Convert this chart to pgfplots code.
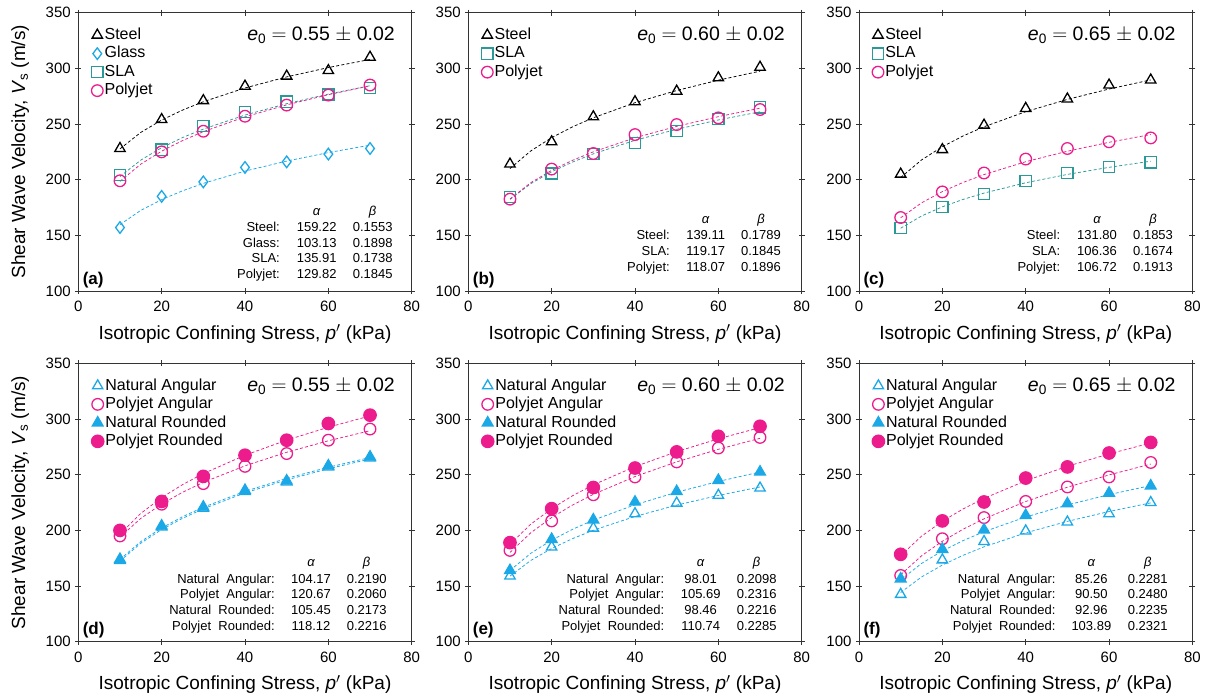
\documentclass[border=0pt]{standalone}
\usepackage{pgfplots}
\pgfplotsset{compat=1.18}
\usepackage{fontspec}
\setmainfont{Liberation Sans}
\definecolor{cyanc}{HTML}{1BA8E6}
\definecolor{tealc}{HTML}{2A9A98}
\definecolor{magc}{HTML}{EC1C8C}
\definecolor{axc}{HTML}{333333}
\tikzset{tab/.style={font=\fontsize{13}{15}\selectfont, inner sep=0pt},
  plab/.style={font=\bfseries\fontsize{17}{20}\selectfont, anchor=west, inner sep=0pt}}
\pgfplotsset{
 panel/.style={scale only axis, width=333.4pt, height=278.3pt,
  xmin=0, xmax=80, ymin=100, ymax=350,
  xtick={0,20,40,60,80}, ytick={100,150,200,250,300,350},
  tick align=center, major tick length=6pt,
  axis line style={line width=0.9pt, axc},
  tick style={line width=0.9pt, axc},
  ticklabel style={font=\fontsize{15}{18}\selectfont},
  xticklabel style={yshift=-3.5pt},
  yticklabel style={xshift=-1pt},
  /pgf/number format/assume math mode=true,
  xlabel={Isotropic Confining Stress, \textit{p}$^{\prime}$ (kPa)},
  xlabel style={at={(axis description cs:0.5,0)}, anchor=center, yshift=-43pt, font=\fontsize{19}{23}\selectfont},
  ylabel style={at={(axis description cs:-0.174,0.5)}, anchor=center, font=\fontsize{19}{23}\selectfont},
  legend style={draw=none, fill=none, at={(rel axis cs:0,1)}, anchor=north west, xshift=13pt, yshift=-13pt,
    font=\fontsize{16}{19}\selectfont, inner sep=0pt,
    nodes={inner sep=1.5pt, text height=12pt, text depth=3.5pt}, row sep=0pt},
  legend cell align=left, clip=false},
 dat/.style={only marks, mark options={solid, line width=1.3pt},
   legend image code/.code={\draw[##1] plot coordinates {(5pt,0pt)};}},
 fitl/.style={forget plot, no marks, dash pattern=on 3pt off 2.2pt, line width=0.75pt},
}
\newcommand{\trow}[4]{%
 \node[tab,anchor=base east] at (rel axis cs:\lx,#1) {#2};
 \node[tab,anchor=base] at (rel axis cs:\ax,#1) {#3};
 \node[tab,anchor=base] at (rel axis cs:\bx,#1) {#4};}
\newcommand{\hdr}[1]{%
 \node[tab,anchor=base] at (rel axis cs:\ax,#1) {\itshape α};
 \node[tab,anchor=base] at (rel axis cs:\bx,#1) {\itshape β};}
\newcommand{\eo}[1]{\fontsize{19.5}{23}\selectfont\textit{e}\textsubscript{0} $=$ #1 $\pm$ 0.02}
\begin{document}
\begin{tikzpicture}
\useasboundingbox (0pt,0pt) rectangle (1207pt,700pt);

% ---------------- (a)
\def\lx{0.605}\def\ax{0.715}\def\bx{0.883}
\begin{axis}[panel, at={(78.3pt,409pt)}, anchor=south west,
  ylabel={Shear Wave Velocity, \textit{V}\textsubscript{s} (m/s)}]
\addplot[fitl, black] coordinates {(10,227.67)(15,242.46)(20,253.54)(25,262.48)(30,270.02)(40,282.36)(50,292.31)(60,300.71)(70,308.00)};
\addplot[fitl, cyanc] coordinates {(10,159.66)(15,172.43)(20,182.10)(25,189.98)(30,196.67)(40,207.71)(50,216.70)(60,224.33)(70,230.99)};
\addplot[fitl, tealc] coordinates {(10,202.79)(15,217.60)(20,228.76)(25,237.80)(30,245.46)(40,258.04)(50,268.25)(60,276.88)(70,284.40)};
\addplot[fitl, magc] coordinates {(10,198.54)(15,213.96)(20,225.62)(25,235.10)(30,243.15)(40,256.40)(50,267.18)(60,276.32)(70,284.29)};
\addplot[dat, black, mark=triangle, mark size=6pt] coordinates {(10,228)(20,254)(30,271)(40,284)(50,293)(60,298)(70,310)};
\addlegendentry{Steel}
\addplot[dat, cyanc, mark=diamond, mark size=5.8pt] coordinates {(10,157)(20,185)(30,198)(40,211)(50,216)(60,223)(70,228)};
\addlegendentry{Glass}
\addplot[dat, tealc, mark=square, mark size=5.6pt] coordinates {(10,204)(20,227)(30,248)(40,261)(50,270)(60,276.5)(70,282.5)};
\addlegendentry{SLA}
\addplot[dat, magc, mark=o, mark size=5.8pt] coordinates {(10,199)(20,225)(30,243.5)(40,257)(50,267)(60,276)(70,285)};
\addlegendentry{Polyjet}
\node[anchor=east] at (rel axis cs:0.96,0.918) {\eo{0.55}};
\hdr{0.270}
\trow{0.213}{Steel:}{159.22}{0.1553}
\trow{0.156}{Glass:}{103.13}{0.1898}
\trow{0.102}{SLA:}{135.91}{0.1738}
\trow{0.044}{Polyjet:}{129.82}{0.1845}
\node[plab] at (rel axis cs:0.013,0.038) {(a)};
\end{axis}

% ---------------- (b)
\def\lx{0.605}\def\ax{0.712}\def\bx{0.878}
\begin{axis}[panel, at={(468.3pt,409pt)}, anchor=south west]
\addplot[fitl, black] coordinates {(10,210.02)(15,225.82)(20,237.75)(25,247.43)(30,255.63)(40,269.13)(50,280.09)(60,289.38)(70,297.47)};
\addplot[fitl, tealc] coordinates {(10,182.25)(15,196.41)(20,207.11)(25,215.82)(30,223.20)(40,235.37)(50,245.26)(60,253.65)(70,260.97)};
\addplot[fitl, magc] coordinates {(10,182.70)(15,197.30)(20,208.36)(25,217.36)(30,225.01)(40,237.62)(50,247.89)(60,256.61)(70,264.22)};
\addplot[dat, black, mark=triangle, mark size=6pt] coordinates {(10,214)(20,234)(30,256.5)(40,270)(50,279.5)(60,291.5)(70,301)};
\addlegendentry{Steel}
\addplot[dat, tealc, mark=square, mark size=5.6pt] coordinates {(10,184.5)(20,205.5)(30,223)(40,233)(50,243.5)(60,254.5)(70,265)};
\addlegendentry{SLA}
\addplot[dat, magc, mark=o, mark size=5.8pt] coordinates {(10,182.5)(20,209.5)(30,223.5)(40,240.5)(50,249.5)(60,255.5)(70,263)};
\addlegendentry{Polyjet}
\node[anchor=east] at (rel axis cs:0.96,0.918) {\eo{0.60}};
\hdr{0.243}
\trow{0.184}{Steel:}{139.11}{0.1789}
\trow{0.128}{SLA:}{119.17}{0.1845}
\trow{0.070}{Polyjet:}{118.07}{0.1896}
\node[plab] at (rel axis cs:0.013,0.038) {(b)};
\end{axis}

% ---------------- (c)
\def\lx{0.604}\def\ax{0.714}\def\bx{0.882}
\begin{axis}[panel, at={(859pt,409pt)}, anchor=south west]
\addplot[fitl, black] coordinates {(10,201.94)(15,217.69)(20,229.61)(25,239.31)(30,247.53)(40,261.08)(50,272.10)(60,281.45)(70,289.61)};
\addplot[fitl, tealc] coordinates {(10,156.38)(15,167.36)(20,175.62)(25,182.30)(30,187.95)(40,197.23)(50,204.73)(60,211.08)(70,216.60)};
\addplot[fitl, magc] coordinates {(10,165.79)(15,179.16)(20,189.29)(25,197.55)(30,204.56)(40,216.13)(50,225.56)(60,233.56)(70,240.56)};
\addplot[dat, black, mark=triangle, mark size=6pt] coordinates {(10,205)(20,227)(30,249)(40,264)(50,272.5)(60,285)(70,289.5)};
\addlegendentry{Steel}
\addplot[dat, tealc, mark=square, mark size=5.6pt] coordinates {(10,156.5)(20,175.5)(30,187)(40,199)(50,206)(60,211.5)(70,215.5)};
\addlegendentry{SLA}
\addplot[dat, magc, mark=o, mark size=5.8pt] coordinates {(10,166)(20,189)(30,206)(40,218.5)(50,228)(60,234)(70,237.5)};
\addlegendentry{Polyjet}
\node[anchor=east] at (rel axis cs:0.96,0.918) {\eo{0.65}};
\hdr{0.243}
\trow{0.184}{Steel:}{131.80}{0.1853}
\trow{0.128}{SLA:}{106.36}{0.1674}
\trow{0.070}{Polyjet:}{106.72}{0.1913}
\node[plab] at (rel axis cs:0.013,0.038) {(c)};
\end{axis}

% ---------------- (d)
\def\lx{0.59}\def\ax{0.698}\def\bx{0.865}
\begin{axis}[panel, at={(78.3pt,58.3pt)}, anchor=south west,
  ylabel={Shear Wave Velocity, \textit{V}\textsubscript{s} (m/s)}]
\addplot[fitl, cyanc] coordinates {(10,172.48)(15,188.50)(20,200.76)(25,210.81)(30,219.40)(40,233.67)(50,245.37)(60,255.36)(70,264.13)};
\addplot[fitl, magc] coordinates {(10,193.91)(15,210.80)(20,223.67)(25,234.19)(30,243.16)(40,258.00)(50,270.14)(60,280.48)(70,289.53)};
\addplot[fitl, cyanc] coordinates {(10,173.92)(15,189.94)(20,202.19)(25,212.24)(30,220.82)(40,235.06)(50,246.74)(60,256.71)(70,265.46)};
\addplot[fitl, magc] coordinates {(10,196.75)(15,215.25)(20,229.42)(25,241.05)(30,250.99)(40,267.51)(50,281.07)(60,292.66)(70,302.83)};
\addplot[dat, cyanc, mark=triangle, mark size=6pt] coordinates {(10,173)(20,203)(30,220)(40,235)(50,243.5)(60,257)(70,265)};
\addlegendentry{Natural Angular}
\addplot[dat, magc, mark=o, mark size=5.8pt] coordinates {(10,195)(20,223.5)(30,242)(40,257.5)(50,269)(60,281)(70,291)};
\addlegendentry{Polyjet Angular}
\addplot[dat, cyanc, mark=triangle*, mark size=6.2pt] coordinates {(10,174)(20,204)(30,221)(40,236)(50,244.5)(60,258)(70,266)};
\addlegendentry{Natural Rounded}
\addplot[dat, magc, mark=*, mark size=6.2pt] coordinates {(10,200)(20,226)(30,248.5)(40,267.5)(50,281)(60,296)(70,303.5)};
\addlegendentry{Polyjet Rounded}
\node[anchor=east] at (rel axis cs:0.96,0.918) {\eo{0.55}};
\hdr{0.271}
\trow{0.210}{Natural~~Angular:}{104.17}{0.2190}
\trow{0.154}{Polyjet~~Angular:}{120.67}{0.2060}
\trow{0.098}{Natural~~Rounded:}{105.45}{0.2173}
\trow{0.041}{Polyjet~~Rounded:}{118.12}{0.2216}
\node[plab] at (rel axis cs:0.013,0.040) {(d)};
\end{axis}

% ---------------- (e)
\def\lx{0.588}\def\ax{0.697}\def\bx{0.865}
\begin{axis}[panel, at={(468.3pt,58.3pt)}, anchor=south west]
\addplot[fitl, cyanc] coordinates {(10,158.88)(15,172.99)(20,183.75)(25,192.56)(30,200.06)(40,212.51)(50,222.70)(60,231.38)(70,238.99)};
\addplot[fitl, magc] coordinates {(10,180.15)(15,197.89)(20,211.52)(25,222.74)(30,232.35)(40,248.36)(50,261.53)(60,272.81)(70,282.72)};
\addplot[fitl, cyanc] coordinates {(10,164.00)(15,179.42)(20,191.23)(25,200.93)(30,209.21)(40,222.99)(50,234.29)(60,243.95)(70,252.43)};
\addplot[fitl, magc] coordinates {(10,187.42)(15,205.61)(20,219.58)(25,231.07)(30,240.89)(40,257.26)(50,270.72)(60,282.24)(70,292.35)};
\addplot[dat, cyanc, mark=triangle, mark size=6pt] coordinates {(10,159)(20,185)(30,202)(40,215)(50,224.5)(60,231.5)(70,238)};
\addlegendentry{Natural Angular}
\addplot[dat, magc, mark=o, mark size=5.8pt] coordinates {(10,182)(20,208.5)(30,232)(40,248)(50,261.5)(60,274)(70,283.5)};
\addlegendentry{Polyjet Angular}
\addplot[dat, cyanc, mark=triangle*, mark size=6.2pt] coordinates {(10,164)(20,192)(30,209.5)(40,225.5)(50,235)(60,245)(70,252.5)};
\addlegendentry{Natural Rounded}
\addplot[dat, magc, mark=*, mark size=6.2pt] coordinates {(10,189)(20,219.5)(30,238.5)(40,256)(50,270.5)(60,284.5)(70,293.5)};
\addlegendentry{Polyjet Rounded}
\node[anchor=east] at (rel axis cs:0.96,0.918) {\eo{0.60}};
\hdr{0.271}
\trow{0.210}{Natural~~Angular:}{98.01}{0.2098}
\trow{0.154}{Polyjet~~Angular:}{105.69}{0.2316}
\trow{0.098}{Natural~~Rounded:}{98.46}{0.2216}
\trow{0.041}{Polyjet~~Rounded:}{110.74}{0.2285}
\node[plab] at (rel axis cs:0.013,0.040) {(e)};
\end{axis}

% ---------------- (f)
\def\lx{0.590}\def\ax{0.697}\def\bx{0.866}
\begin{axis}[panel, at={(859pt,58.3pt)}, anchor=south west]
\addplot[fitl, cyanc] coordinates {(10,144.16)(15,158.13)(20,168.85)(25,177.67)(30,185.22)(40,197.77)(50,208.10)(60,216.95)(70,224.71)};
\addplot[fitl, magc] coordinates {(10,160.19)(15,177.14)(20,190.24)(25,201.07)(30,210.37)(40,225.92)(50,238.78)(60,249.82)(70,259.56)};
\addplot[fitl, cyanc] coordinates {(10,155.52)(15,170.28)(20,181.58)(25,190.87)(30,198.81)(40,212.01)(50,222.85)(60,232.12)(70,240.26)};
\addplot[fitl, magc] coordinates {(10,177.29)(15,194.78)(20,208.23)(25,219.30)(30,228.78)(40,244.58)(50,257.58)(60,268.71)(70,278.50)};
\addplot[dat, cyanc, mark=triangle, mark size=6pt] coordinates {(10,142.5)(20,173.5)(30,190)(40,199.5)(50,207.5)(60,215)(70,225)};
\addlegendentry{Natural Angular}
\addplot[dat, magc, mark=o, mark size=5.8pt] coordinates {(10,159.5)(20,192.5)(30,211.5)(40,226)(50,239)(60,248)(70,261)};
\addlegendentry{Polyjet Angular}
\addplot[dat, cyanc, mark=triangle*, mark size=6.2pt] coordinates {(10,156.5)(20,183)(30,200.5)(40,213.5)(50,224)(60,233.5)(70,240)};
\addlegendentry{Natural Rounded}
\addplot[dat, magc, mark=*, mark size=6.2pt] coordinates {(10,178.5)(20,208.5)(30,225.5)(40,247)(50,257)(60,269.5)(70,279)};
\addlegendentry{Polyjet Rounded}
\node[anchor=east] at (rel axis cs:0.96,0.918) {\eo{0.65}};
\hdr{0.271}
\trow{0.210}{Natural~~Angular:}{85.26}{0.2281}
\trow{0.154}{Polyjet~~Angular:}{90.50}{0.2480}
\trow{0.098}{Natural~~Rounded:}{92.96}{0.2235}
\trow{0.041}{Polyjet~~Rounded:}{103.89}{0.2321}
\node[plab] at (rel axis cs:0.013,0.040) {(f)};
\end{axis}
\end{tikzpicture}
\end{document}
